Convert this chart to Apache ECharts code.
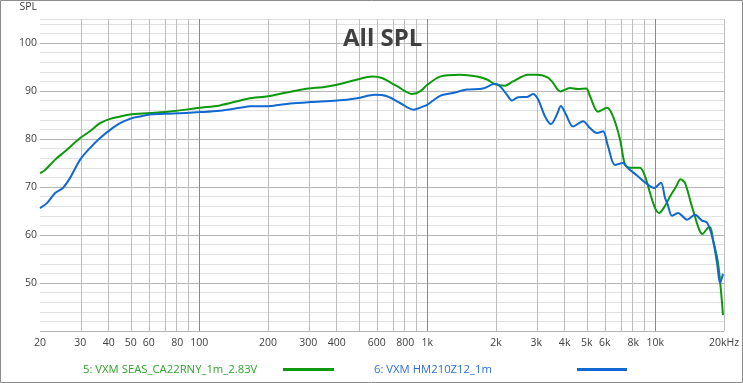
<!DOCTYPE html>
<html><head><meta charset="utf-8">
<script src="https://cdn.jsdelivr.net/npm/echarts@6/dist/echarts.min.js"></script>
<style>html,body{margin:0;padding:0;background:#fff}#c{width:743px;height:383px}</style>
</head><body><div id="c"></div>
<script>
const greenName = '5: VXM SEAS_CA22RNY_1m_2.83V';
const blueName = '6: VXM HM210Z12_1m';
const greenFreq = [20, 21, 23.3, 25.7, 30, 33.1, 36.7, 40.6, 45, 49.6, 60.7, 76.7, 100, 123, 163, 200, 242, 300, 348, 401, 492, 572, 632, 736, 856, 929, 1000, 1137, 1391, 1651, 1826, 1980, 2190, 2375, 2760, 3030, 3350, 3520, 3830, 4220, 4580, 4970, 5170, 5600, 6140, 6520, 7000, 7360, 7740, 8560, 9010, 9470, 9970, 10400, 11000, 11600, 12300, 12900, 13500, 14600, 16100, 17000, 17400, 17900, 18700, 19200, 19800];
const greenSPL = [72.9, 73.5, 75.7, 77.4, 80.2, 81.6, 83.3, 84.2, 84.7, 85.1, 85.4, 85.8, 86.5, 87.0, 88.4, 88.9, 89.7, 90.5, 90.8, 91.3, 92.4, 93.0, 92.7, 91.0, 89.4, 89.9, 91.3, 93.0, 93.4, 93.0, 92.4, 91.4, 91.1, 92.0, 93.4, 93.4, 92.9, 92.0, 89.9, 90.6, 90.4, 90.5, 88.9, 85.7, 86.5, 84.7, 79.9, 74.6, 74.0, 74.0, 72.2, 68.8, 65.6, 64.6, 66.0, 68.0, 70.0, 71.6, 70.8, 65.3, 60.2, 61.5, 61.6, 59.0, 55.0, 50.7, 43.3];
const blueFreq = [20, 21.5, 23.3, 25.2, 27.1, 30, 33.1, 36.7, 40.6, 44.9, 49.6, 54.9, 60.7, 76.7, 100, 123, 151, 167, 208, 250, 306, 401, 492, 590, 665, 759, 870, 948, 997, 1137, 1296, 1492, 1750, 1980, 2083, 2235, 2351, 2500, 2740, 2906, 3057, 3281, 3486, 3700, 3850, 4055, 4354, 4817, 5166, 5547, 5893, 6197, 6653, 7213, 7587, 8309, 9100, 9866, 10580, 11026, 11300, 11831, 12570, 13768, 14922, 16015, 16843, 17800, 18638, 19208, 19800];
const blueSPL = [65.6, 66.7, 68.75, 69.8, 71.9, 75.7, 78.1, 80.2, 81.9, 83.3, 84.2, 84.7, 85.1, 85.3, 85.6, 85.9, 86.5, 86.8, 86.9, 87.4, 87.7, 88.0, 88.5, 89.2, 88.9, 87.5, 86.1, 86.7, 87.1, 89.0, 89.6, 90.3, 90.5, 91.5, 91.0, 89.2, 88.0, 88.7, 88.75, 89.4, 88.3, 84.7, 83.1, 85.1, 86.9, 85.1, 82.6, 83.7, 82.3, 81.25, 81.6, 78.5, 74.6, 75.0, 73.9, 72.4, 70.8, 69.8, 70.9, 67.7, 66.5, 64.0, 64.6, 63.2, 64.2, 63.0, 62.6, 59.4, 54.2, 50.0, 51.9];
const xTickFreqs = [20, 30, 40, 50, 60, 80, 100, 200, 300, 400, 600, 800, 1000, 2000, 3000, 4000, 5000, 6000, 8000, 10000, 20000];
const xTickLabels = ['20', '30', '40', '50', '60', '80', '100', '200', '300', '400', '600', '800', '1k', '2k', '3k', '4k', '5k', '6k', '8k', '10k', '20kHz'];
const gridFreqs = [20, 30, 40, 50, 60, 70, 80, 90, 100, 200, 300, 400, 500, 600, 700, 800, 900, 1000, 2000, 3000, 4000, 5000, 6000, 7000, 8000, 9000, 10000, 20000];
const majorFreqs = [100, 1000, 10000];
const yLabelValues = [50, 60, 70, 80, 90, 100];

const FONT = 'Open Sans';
const chart = echarts.init(document.getElementById('c'), null, {renderer: 'canvas'});
const xTickLogs = xTickFreqs.map(f => Math.log10(f));
function fmtX(v) {
  for (let i = 0; i < xTickLogs.length; i++) if (Math.abs(xTickLogs[i] - v) < 1e-6) return xTickLabels[i];
  return '';
}
function legendText(color, w) {
  return {fontFamily: FONT, fontSize: 11.3, color: color,
    rich: {t: {fontFamily: FONT, fontSize: 11.3, color: color, width: w, align: 'left'}}};
}
chart.setOption({
  animation: false,
  backgroundColor: '#fff',
  title: {text: 'All SPL', left: 343, top: 27, padding: 0,
    textStyle: {fontFamily: FONT, fontSize: 24, fontWeight: 'bold', color: '#404040'}},
  graphic: [{type: 'rect', shape: {x: 0.5, y: 0.5, width: 742, height: 382}, style: {fill: 'none', stroke: '#8c8c8c', lineWidth: 1}, z: 100}],
  legend: [
    {data: [greenName], left: 83, top: 364, align: 'right', icon: 'rect', itemWidth: 51, itemHeight: 3, padding: 0,
      formatter: n => '{t|' + n + '}', textStyle: legendText('#2ea52a', 195)},
    {data: [blueName], left: 374, top: 364, align: 'right', icon: 'rect', itemWidth: 50, itemHeight: 3, padding: 0,
      formatter: n => '{t|' + n + '}', textStyle: legendText('#2f6fd3', 198)}
  ],
  grid: {left: 40, right: 19, top: 19, bottom: 52, containLabel: false},
  xAxis: {
    type: 'value', min: Math.log10(20), max: Math.log10(20000),
    splitLine: {show: false}, axisLine: {show: false}, axisTick: {show: false},
    axisLabel: {customValues: xTickLogs, formatter: fmtX, fontFamily: FONT, fontSize: 10.5, color: '#404040', margin: 7, hideOverlap: false, showMinLabel: true, showMaxLabel: true}
  },
  yAxis: {
    type: 'value', min: 40, max: 105, interval: 2,
    name: 'SPL', nameLocation: 'end', nameGap: 6,
    nameTextStyle: {fontFamily: FONT, fontSize: 10.5, color: '#404040', align: 'right', verticalAlign: 'bottom', padding: [0, 3, 0, 0]},
    axisLine: {show: false}, axisTick: {show: false},
    axisLabel: {formatter: v => (yLabelValues.indexOf(v) >= 0 ? String(v) : ''), fontFamily: FONT, fontSize: 10.5, color: '#404040', margin: 3},
    splitLine: {show: true, lineStyle: {color: ['#b5b5b5', '#e0e0e0', '#e0e0e0', '#e0e0e0', '#e0e0e0'], width: 1}}
  },
  series: [
    {type: 'line', name: '__grid', data: [], z: 1, silent: true,
      markLine: {silent: true, symbol: ['none', 'none'], label: {show: false}, animation: false,
        data: gridFreqs.map(f => ({xAxis: Math.log10(f), lineStyle: {color: majorFreqs.indexOf(f) >= 0 ? '#8a8a8a' : '#bdbdbd', width: 1, type: 'solid'}}))}},
    {type: 'line', name: greenName, data: greenFreq.map((f, i) => [Math.log10(f), greenSPL[i]]),
      showSymbol: false, smooth: 0.3, z: 5, color: '#0c990c', lineStyle: {width: 2, color: '#0c990c'}},
    {type: 'line', name: blueName, data: blueFreq.map((f, i) => [Math.log10(f), blueSPL[i]]),
      showSymbol: false, smooth: 0.3, z: 6, color: '#1168d0', lineStyle: {width: 2, color: '#1168d0'}}
  ]
});
</script>
</body></html>
